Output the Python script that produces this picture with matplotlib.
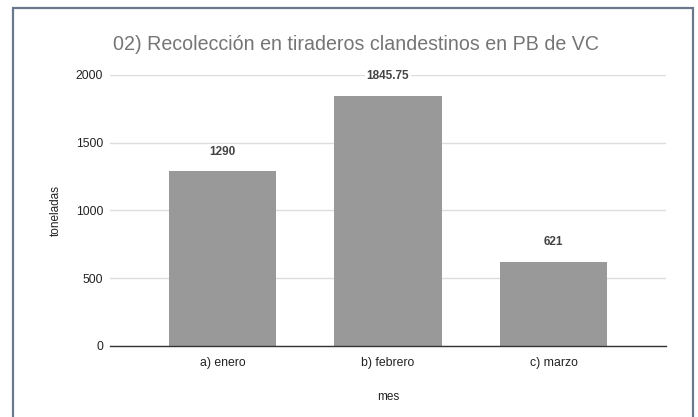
import matplotlib
matplotlib.use("Agg")
import matplotlib.pyplot as plt
from matplotlib.patches import Rectangle

categories = ["a) enero", "b) febrero", "c) marzo"]
values = [1290, 1845.75, 621]
value_labels = ["1290", "1845.75", "621"]
yticks = [0, 500, 1000, 1500, 2000]

plt.rcParams['font.family'] = ['Liberation Sans', 'DejaVu Sans']

W, H = 698, 417
fig = plt.figure(figsize=(W / 100, H / 100), dpi=100)
fig.patch.set_facecolor('white')

# frame around figure
fig.add_artist(Rectangle((12.5 / W, -0.05), (693 - 12.5) / W, 1.05 - 8 / H,
                         transform=fig.transFigure, fill=False,
                         edgecolor='#6b778c', lw=1.6))

left, right = 110 / W, 666 / W
y0, y2000 = 345.8, 75
ax = fig.add_axes([left, 1 - y0 / H, right - left, (y0 - y2000) / H])

x = list(range(len(categories)))
ax.bar(x, values, width=0.65, color='#999999', zorder=2)
ax.set_xlim(-0.68, 2.68)
ax.set_ylim(0, 2000)
ax.set_yticks(yticks)
ax.set_yticklabels([str(t) for t in yticks], fontsize=8.8, color='#222222')
ax.set_xticks(x)
ax.set_xticklabels(categories, fontsize=8.8, color='#222222')
ax.tick_params(axis='y', length=0, pad=5)
ax.tick_params(axis='x', length=0, pad=8)
ax.grid(axis='y', color='#dddddd', lw=1, zorder=0)
for s in ['top', 'right', 'left']:
    ax.spines[s].set_visible(False)
ax.spines['bottom'].set_color('#333333')
ax.spines['bottom'].set_linewidth(1.0)
ax.spines['bottom'].set_zorder(3)

for xi, v, lab in zip(x, values, value_labels):
    ax.annotate(lab, (xi, v), xytext=(0, 14), textcoords='offset points',
                ha='center', va='center', fontsize=8.5, fontweight='bold',
                color='#444444',
                bbox=dict(boxstyle='square,pad=0.15', fc='white', ec='none'),
                zorder=4)

ax.set_ylabel('toneladas', fontsize=8.5, color='#222222', labelpad=10)
ax.set_xlabel('mes', fontsize=8.5, color='#222222', labelpad=16)

fig.text(356 / W, 1 - 45 / H, '02) Recolección en tiraderos clandestinos en PB de VC',
         ha='center', va='center', fontsize=14.1, color='#757575')

fig.savefig('out.png', dpi=100)
